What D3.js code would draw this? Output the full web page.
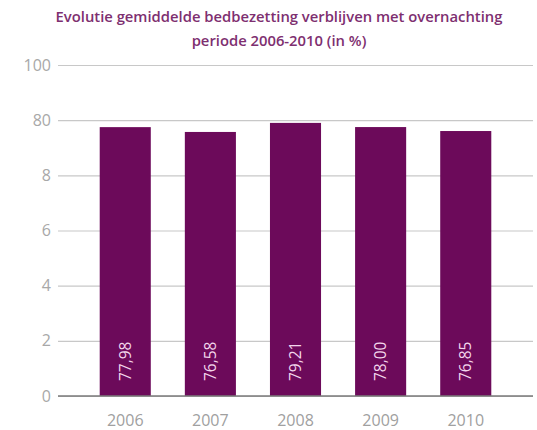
<!DOCTYPE html>
<html>
<head>
<meta charset="utf-8">
<script src="https://cdn.jsdelivr.net/npm/d3@7"></script>
<style>
  body { margin: 0; background: #fff; }
  svg { display: block; }
</style>
</head>
<body>
<div id="chart"></div>
<script>
// data
const years = ["2006", "2007", "2008", "2009", "2010"];
const occupancy = [77.98, 76.58, 79.21, 78.00, 76.85];
const valueLabels = ["77,98", "76,58", "79,21", "78,00", "76,85"];
// the original axis is labelled like this (sic)
const tickValues = [0, 16, 32, 48, 64, 80, 96];
const tickLabels = ["0", "2", "4", "6", "8", "80", "100"];
const titleLines = ["Evolutie gemiddelde bedbezetting verblijven met overnachting", "periode 2006-2010 (in %)"];

const width = 537, height = 430;
const plotLeft = 58, plotRight = 533, plotTop = 65, plotBottom = 396;

const svg = d3.select("#chart")
  .append("svg")
  .attr("width", width)
  .attr("height", height);

const x = d3.scaleBand()
  .domain(years)
  .range([plotLeft, plotRight])
  .paddingInner(0.4)
  .paddingOuter(0.49);

const y = d3.scaleLinear()
  .domain([0, 96])
  .range([plotBottom, plotTop]);

// title
svg.selectAll("text.title")
  .data(titleLines)
  .join("text")
    .attr("class", "title")
    .attr("x", 279)
    .attr("y", function(d, i) { return 22 + i * 24; })
    .attr("text-anchor", "middle")
    .style("font-family", "Open Sans")
    .style("font-size", "14.8px")
    .style("font-weight", "600")
    .style("fill", "#7e2f70")
    .text(function(d) { return d; });

// gridlines + y labels
const yAxis = d3.axisLeft(y)
  .tickValues(tickValues)
  .tickSize(-(plotRight - plotLeft))
  .tickPadding(7)
  .tickFormat(function(d, i) { return tickLabels[i]; });

const gy = svg.append("g")
  .attr("transform", "translate(" + plotLeft + ",0)")
  .call(yAxis);
gy.select(".domain").remove();
gy.selectAll(".tick line")
  .attr("stroke", "#c8c8c8")
  .attr("stroke-width", 1.2);
gy.selectAll(".tick text")
  .style("font-family", "Open Sans")
  .style("font-size", "16px")
  .style("fill", "#a8a8a8");

// bars
svg.selectAll("rect.bar")
  .data(occupancy)
  .join("rect")
    .attr("class", "bar")
    .attr("x", function(d, i) { return x(years[i]); })
    .attr("y", function(d) { return y(d); })
    .attr("width", x.bandwidth())
    .attr("height", function(d) { return y(0) - y(d); })
    .attr("fill", "#6c0a5a");

// value labels, rotated inside the bars
svg.selectAll("text.val")
  .data(valueLabels)
  .join("text")
    .attr("class", "val")
    .attr("transform", function(d, i) {
      return "translate(" + (x(years[i]) + x.bandwidth() / 2) + "," + (y(0) - 15) + ") rotate(-90)";
    })
    .attr("dy", "0.35em")
    .style("font-family", "Open Sans")
    .style("font-size", "15.5px")
    .style("fill", "#f3d6ec")
    .text(function(d) { return d; });

// baseline
svg.append("line")
  .attr("x1", plotLeft)
  .attr("x2", plotRight)
  .attr("y1", y(0))
  .attr("y2", y(0))
  .attr("stroke", "#7a7a7a")
  .attr("stroke-width", 1.5);

// x labels
svg.selectAll("text.year")
  .data(years)
  .join("text")
    .attr("class", "year")
    .attr("x", function(d) { return x(d) + x.bandwidth() / 2; })
    .attr("y", 426)
    .attr("text-anchor", "middle")
    .style("font-family", "Open Sans")
    .style("font-size", "16px")
    .style("fill", "#a0a0a0")
    .text(function(d) { return d; });
</script>
</body>
</html>
